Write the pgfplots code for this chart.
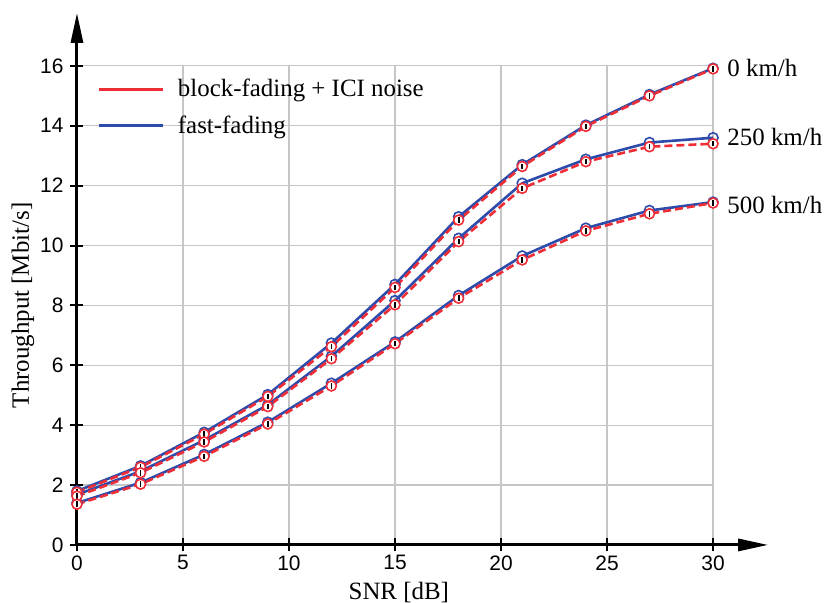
\documentclass[border=0pt]{standalone}
\usepackage{fontspec}
\setmainfont{Liberation Serif}
\setsansfont{Liberation Sans}
\usepackage{pgfplots}
\pgfplotsset{compat=1.18}
\usetikzlibrary{arrows.meta}
\definecolor{myred}{RGB}{238,45,55}
\definecolor{myblue}{RGB}{45,75,170}
\pgfdeclareplotmark{circI}{%
  \pgfpathcircle{\pgfpointorigin}{\pgfplotmarksize}\pgfusepathqfillstroke
  \pgfscope
  \pgfsetstrokecolor{black}\pgfsetlinewidth{0.9bp}%
  \pgfpathmoveto{\pgfpoint{0pt}{-0.55\pgfplotmarksize}}%
  \pgfpathlineto{\pgfpoint{0pt}{0.55\pgfplotmarksize}}\pgfusepathqstroke
  \endpgfscope}

\pgfplotstableread{
x   b0     b250   b500   r0     r250   r500
0   1.80   1.68   1.40   1.76   1.63   1.36
3   2.64   2.46   2.08   2.60   2.41   2.03
6   3.76   3.50   3.02   3.70   3.44   2.96
9   5.02   4.68   4.10   4.96   4.62   4.04
12  6.74   6.30   5.40   6.62   6.22   5.31
15  8.70   8.16   6.78   8.60   8.02   6.72
18  10.96  10.24  8.33   10.85  10.13  8.24
21  12.70  12.08  9.65   12.64  11.91  9.52
24  14.02  12.88  10.58  13.98  12.80  10.49
27  15.04  13.44  11.17  15.00  13.30  11.06
30  15.92  13.60  11.45  15.90  13.40  11.42
}\data

\begin{document}
\begin{tikzpicture}
\begin{axis}[
  scale only axis,
  width=318bp, height=239.5bp,
  xmin=0, xmax=30, ymin=0, ymax=16,
  xtick={0,5,...,30}, ytick={0,2,...,16},
  axis lines=left,
  axis line style={draw=none},
  tick align=center,
  major tick length=6.5bp,
  tick style={black, line width=1bp},
  grid=major,
  major grid style={gray!45, line width=0.6bp},
  ticklabel style={font=\sffamily\fontsize{10.5}{12}\selectfont},
  xticklabel style={yshift=1.5bp},
  /pgf/number format/assume math mode=true,
  xlabel={SNR [dB]},
  ylabel={Throughput [Mbit/s]},
  label style={font=\fontsize{12.5}{14}\selectfont},
  xlabel style={at={(axis description cs:0.506,-0.076)}, anchor=north, inner sep=0pt},
  ylabel style={at={(axis description cs:-0.085,0.5)}, anchor=center},
  clip=false,
  legend style={draw=none, fill=none, at={(axis description cs:0.022,0.99)}, anchor=north west,
     font=\fontsize{12.5}{14}\selectfont, row sep=4bp, legend cell align=left,
     /tikz/every odd column/.append style={column sep=5bp}},
  legend image code/.code={\draw[#1,solid] (0bp,0bp) -- (32bp,0bp);},
]
\addlegendimage{myred, line width=1.3bp}
\addlegendentry{block-fading + ICI noise}
\addlegendimage{myblue, line width=1.3bp}
\addlegendentry{fast-fading}

\path (axis cs:-3.63,-1.87) rectangle (axis cs:35.28,18.2);

\draw[line width=1.5bp, -{Triangle[length=15bp,width=6bp]}] (axis cs:0,0) -- (axis cs:32.6,0);
\draw[line width=1.5bp, -{Triangle[length=15bp,width=6bp]}] (axis cs:0,0) -- (axis cs:0,17.77);

\foreach \c in {b0,b250,b500}{
  \addplot[myblue, line width=1.3bp, mark=o, mark size=2.5bp, mark options={fill=white, line width=0.8bp}, forget plot] table[x=x, y=\c] {\data};
}
\foreach \c in {r0,r250,r500}{
  \addplot[myred, line width=1.3bp, dash pattern=on 4bp off 2bp, mark=circI, mark size=2.5bp, mark options={solid, fill=white, draw=myred, line width=0.8bp}, forget plot] table[x=x, y=\c] {\data};
}

\node[anchor=west, font=\fontsize{12.5}{14}\selectfont, inner sep=0pt] at (axis cs:30.66,15.93) {0 km/h};
\node[anchor=west, font=\fontsize{12.5}{14}\selectfont, inner sep=0pt] at (axis cs:30.66,13.63) {250 km/h};
\node[anchor=west, font=\fontsize{12.5}{14}\selectfont, inner sep=0pt] at (axis cs:30.66,11.36) {500 km/h};
\end{axis}
\end{tikzpicture}
\end{document}
